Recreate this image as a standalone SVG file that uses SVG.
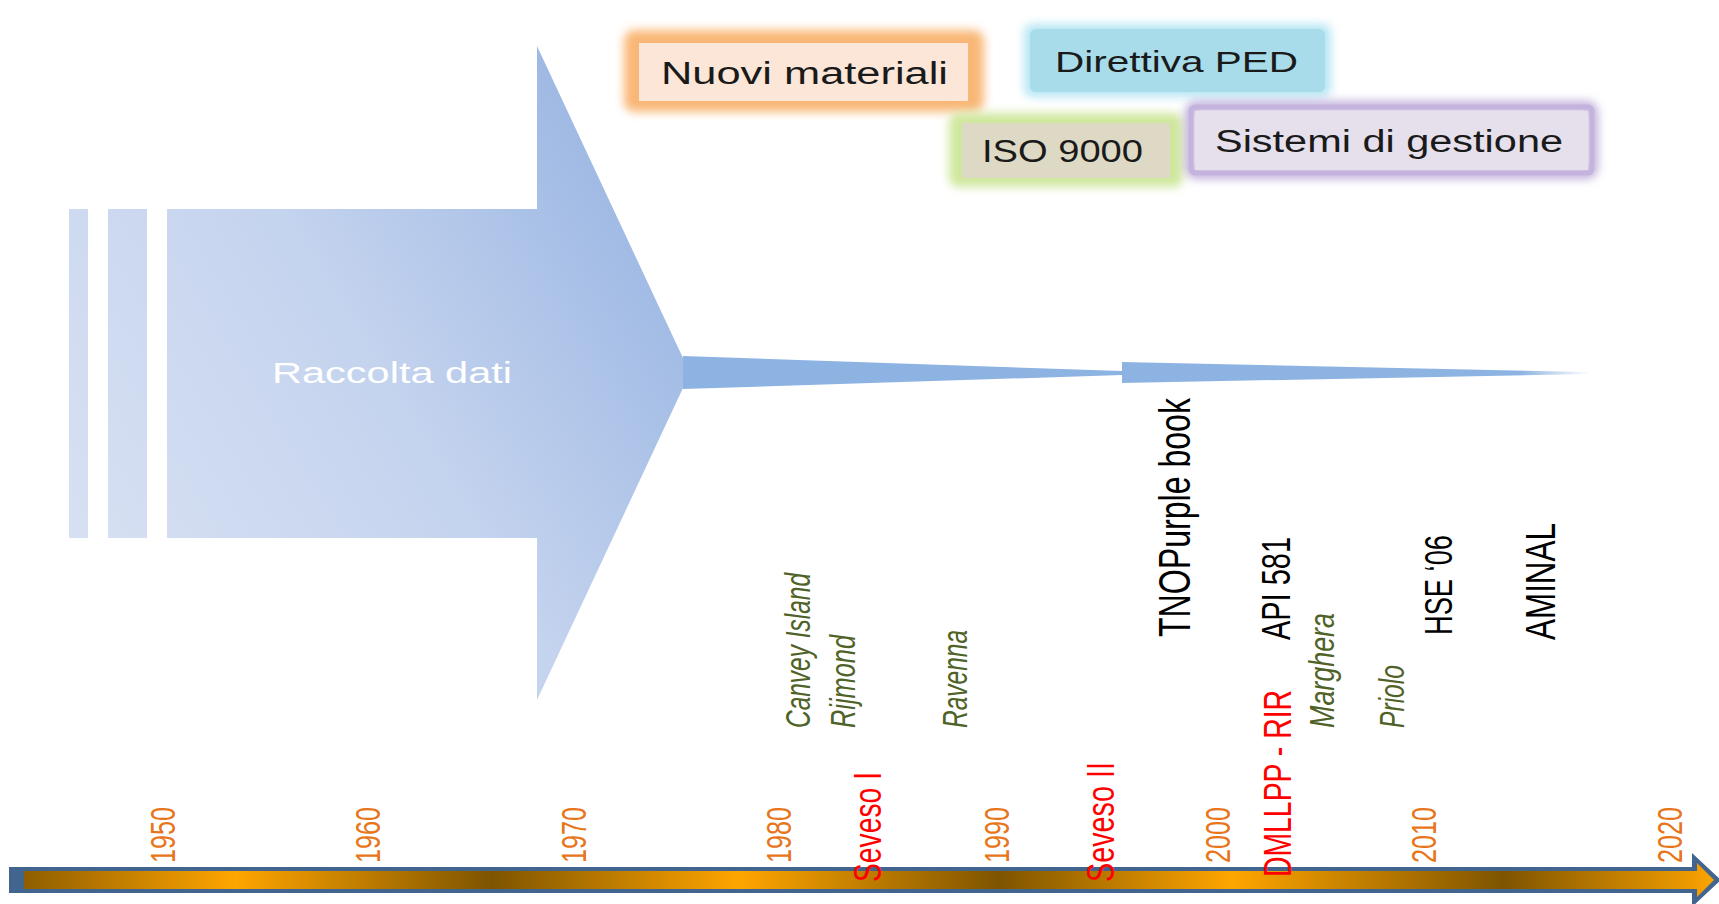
<svg xmlns="http://www.w3.org/2000/svg" width="1719" height="904" viewBox="0 0 1719 904">
<style>
.box{font-family:"Liberation Sans",Arial,sans-serif;font-size:31px;fill:#1a1a1a}
.yr{font-family:"Liberation Sans",Arial,sans-serif;font-size:25px;fill:#e8751a}
.red{font-family:"Liberation Sans",Arial,sans-serif;font-size:28px;fill:#ff0000}
.ev{font-family:"Liberation Sans",Arial,sans-serif;font-size:24.5px;font-style:italic;fill:#4f6228}
.blk{font-family:"Liberation Sans",Arial,sans-serif;fill:#000000}
.lbl{font-family:"Liberation Sans",Arial,sans-serif;font-size:29px;fill:#ffffff}
</style>
<defs>
<linearGradient id="bigG" gradientUnits="userSpaceOnUse" x1="69" y1="560" x2="690" y2="180">
<stop offset="0" stop-color="#d8e1f3"/>
<stop offset="0.5" stop-color="#c4d3ee"/>
<stop offset="1" stop-color="#97b4e2"/>
</linearGradient>
<linearGradient id="w2G" gradientUnits="userSpaceOnUse" x1="1122" y1="0" x2="1590" y2="0">
<stop offset="0" stop-color="#8db3e2"/>
<stop offset="0.85" stop-color="#8db3e2"/>
<stop offset="1" stop-color="#8db3e2" stop-opacity="0"/>
</linearGradient>
<linearGradient id="tlG" gradientUnits="userSpaceOnUse" x1="-15" y1="0" x2="1719" y2="0">
<stop offset="0" stop-color="#7a5000"/>
<stop offset="0.144" stop-color="#ffa500"/>
<stop offset="0.292" stop-color="#7e5400"/>
<stop offset="0.435" stop-color="#ffa500"/>
<stop offset="0.585" stop-color="#7e5400"/>
<stop offset="0.719" stop-color="#ffa500"/>
<stop offset="0.876" stop-color="#7e5400"/>
<stop offset="1" stop-color="#ffa500"/>
</linearGradient>
<filter id="blur" x="-20%" y="-50%" width="140%" height="200%">
<feGaussianBlur stdDeviation="5"/>
</filter>
</defs>
<rect width="1719" height="904" fill="#ffffff"/>

<g id="raccolta-dati">
<rect x="69" y="209" width="19" height="329" fill="url(#bigG)"/>
<rect x="108" y="209" width="39" height="329" fill="url(#bigG)"/>
<polygon points="167,209 537,209 537,46 690,373 537,700 537,538 167,538" fill="url(#bigG)"/>
<text class="lbl" x="272" y="383" textLength="240" lengthAdjust="spacingAndGlyphs">Raccolta dati</text>
</g>

<g id="connectors">
<polygon points="683,356 1122,371 1122,375 683,389" fill="#8db3e2"/>
<polygon points="1122,362 1588,372 1588,374 1122,383" fill="url(#w2G)"/>
</g>

<g id="nuovi-materiali">
<rect x="624" y="30" width="360" height="82" rx="10" fill="#f9b777" filter="url(#blur)"/>
<rect x="639" y="43" width="329" height="58" fill="#fce6d8"/>
<text class="box" x="661" y="84" textLength="287" lengthAdjust="spacingAndGlyphs">Nuovi materiali</text>
</g>

<g id="direttiva-ped">
<rect x="1024" y="24" width="307" height="73" rx="8" fill="#b6e6f4" filter="url(#blur)"/>
<rect x="1030" y="29" width="295" height="63" rx="6" fill="#a8dcea"/>
<text class="box" x="1055" y="72" style="font-size:29px" textLength="243" lengthAdjust="spacingAndGlyphs">Direttiva PED</text>
</g>

<g id="iso-9000">
<rect x="949" y="113" width="234" height="74" rx="9" fill="#cfe79c" filter="url(#blur)"/>
<rect x="962" y="123" width="208" height="55" fill="#ddd9c4"/>
<text class="box" x="982" y="162" textLength="161" lengthAdjust="spacingAndGlyphs">ISO 9000</text>
</g>

<g id="sistemi-di-gestione">
<rect x="1190" y="106" width="403" height="68" rx="6" fill="none" stroke="#b9a6d8" stroke-width="9" filter="url(#blur)"/>
<rect x="1191" y="107" width="401" height="66" rx="4" fill="none" stroke="#c3b3dd" stroke-width="5"/>
<rect x="1195" y="111" width="393" height="59" fill="#e5e0ec"/>
<text class="box" x="1215" y="152" textLength="348" lengthAdjust="spacingAndGlyphs">Sistemi di gestione</text>
</g>

<g id="timeline">
<polygon points="9,867 1692,867 1692,853 1721,880 1692,907 1692,893 9,893" fill="#42658f"/>
<polygon points="24,871 1697,871 1697,863 1714,880 1697,897 1697,889 24,889" fill="url(#tlG)"/>
</g>

<g id="years">
<text class="yr" transform="translate(175,863) scale(1.4,1) rotate(-90)" textLength="56" lengthAdjust="spacingAndGlyphs">1950</text>
<text class="yr" transform="translate(380,863) scale(1.4,1) rotate(-90)" textLength="56" lengthAdjust="spacingAndGlyphs">1960</text>
<text class="yr" transform="translate(586,863) scale(1.4,1) rotate(-90)" textLength="56" lengthAdjust="spacingAndGlyphs">1970</text>
<text class="yr" transform="translate(791,863) scale(1.4,1) rotate(-90)" textLength="56" lengthAdjust="spacingAndGlyphs">1980</text>
<text class="yr" transform="translate(1009,863) scale(1.4,1) rotate(-90)" textLength="56" lengthAdjust="spacingAndGlyphs">1990</text>
<text class="yr" transform="translate(1230,863) scale(1.4,1) rotate(-90)" textLength="56" lengthAdjust="spacingAndGlyphs">2000</text>
<text class="yr" transform="translate(1436,863) scale(1.4,1) rotate(-90)" textLength="56" lengthAdjust="spacingAndGlyphs">2010</text>
<text class="yr" transform="translate(1682,863) scale(1.4,1) rotate(-90)" textLength="56" lengthAdjust="spacingAndGlyphs">2020</text>
</g>

<g id="norme">
<text class="red" transform="translate(881,882) scale(1.4,1) rotate(-90)" textLength="110" lengthAdjust="spacingAndGlyphs">Seveso I</text>
<text class="red" transform="translate(1114,882) scale(1.4,1) rotate(-90)" textLength="120" lengthAdjust="spacingAndGlyphs">Seveso II</text>
<text class="red" transform="translate(1291,877) scale(1.4,1) rotate(-90)" textLength="187" lengthAdjust="spacingAndGlyphs">DMLLPP - RIR</text>
</g>

<g id="incidenti">
<text class="ev" transform="translate(810,728) scale(1.4,1) rotate(-90)" textLength="155" lengthAdjust="spacingAndGlyphs">Canvey Island</text>
<text class="ev" transform="translate(855,728) scale(1.4,1) rotate(-90)" textLength="93" lengthAdjust="spacingAndGlyphs">Rijmond</text>
<text class="ev" transform="translate(967,728) scale(1.4,1) rotate(-90)" textLength="98" lengthAdjust="spacingAndGlyphs">Ravenna</text>
<text class="ev" transform="translate(1334,728) scale(1.4,1) rotate(-90)" textLength="115" lengthAdjust="spacingAndGlyphs">Marghera</text>
<text class="ev" transform="translate(1404,728) scale(1.4,1) rotate(-90)" textLength="63" lengthAdjust="spacingAndGlyphs">Priolo</text>
</g>

<g id="metodologie">
<text class="blk" style="font-size:32px" transform="translate(1190,637) scale(1.4,1) rotate(-90)" textLength="239" lengthAdjust="spacingAndGlyphs">TNOPurple book</text>
<text class="blk" style="font-size:29px" transform="translate(1290,640) scale(1.4,1) rotate(-90)" textLength="103" lengthAdjust="spacingAndGlyphs">API 581</text>
<text class="blk" style="font-size:27.3px" transform="translate(1452,635) scale(1.4,1) rotate(-90)" textLength="100" lengthAdjust="spacingAndGlyphs">HSE ‘06</text>
<text class="blk" style="font-size:31px" transform="translate(1555,640) scale(1.4,1) rotate(-90)" textLength="117" lengthAdjust="spacingAndGlyphs">AMINAL</text>
</g>
</svg>
